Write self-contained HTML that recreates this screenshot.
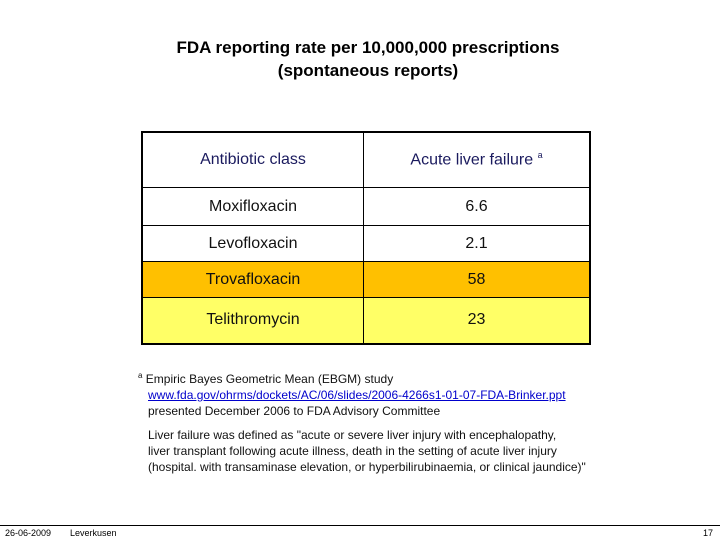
<!DOCTYPE html>
<html><head><meta charset="utf-8"><style>
body{margin:0;width:720px;height:540px;background:#fff;position:relative;font-family:"Liberation Sans",sans-serif;overflow:hidden}
.a{position:absolute}
#title{left:0;width:736px;top:36px;text-align:center;font-weight:bold;font-size:17px;line-height:23px;color:#000}
table{position:absolute;left:141px;top:131px;width:450px;border-collapse:collapse;border:2px solid #000}
td{border:1px solid #000;text-align:center;font-size:16px;color:#111;padding:0}
td.c1{width:220px}
.hd td{color:#1a1a5e;font-weight:normal;height:54px}
.fn{font-size:12px;color:#111;line-height:16px;white-space:nowrap}
</style></head><body>
<div id="title" class="a">FDA reporting rate per 10,000,000 prescriptions<br>(spontaneous reports)</div>
<table>
<tr class="hd"><td class="c1">Antibiotic class</td><td>Acute liver failure <sup style="font-size:9px">a</sup></td></tr>
<tr style="height:38px"><td class="c1">Moxifloxacin</td><td>6.6</td></tr>
<tr style="height:36px"><td class="c1">Levofloxacin</td><td>2.1</td></tr>
<tr style="height:36px;background:#ffc000"><td class="c1">Trovafloxacin</td><td>58</td></tr>
<tr style="height:46px;background:#ffff66"><td class="c1">Telithromycin</td><td>23</td></tr>
</table>
<div class="a fn" style="left:138px;top:368px"><sup style="font-size:8px">a</sup> Empiric Bayes Geometric Mean (EBGM) study<br>&nbsp;&nbsp;&nbsp;<span style="color:#00c;text-decoration:underline">www.fda.gov/ohrms/dockets/AC/06/slides/2006-4266s1-01-07-FDA-Brinker.ppt</span><br>&nbsp;&nbsp;&nbsp;presented December 2006 to FDA Advisory Committee</div>
<div class="a fn" style="left:148px;top:427px">Liver failure was defined as  "acute or severe liver injury with encephalopathy,<br>liver transplant following acute illness, death in the setting of   acute liver injury<br>(hospital. with transaminase elevation, or hyperbilirubinaemia, or clinical jaundice)"</div>
<div class="a" style="left:0;top:525px;width:720px;height:1px;background:#000"></div>
<div class="a" style="left:5px;top:528px;font-size:9px">26-06-2009</div>
<div class="a" style="left:70px;top:528px;font-size:9px">Leverkusen</div>
<div class="a" style="left:703px;top:528px;font-size:9px">17</div>
</body></html>
